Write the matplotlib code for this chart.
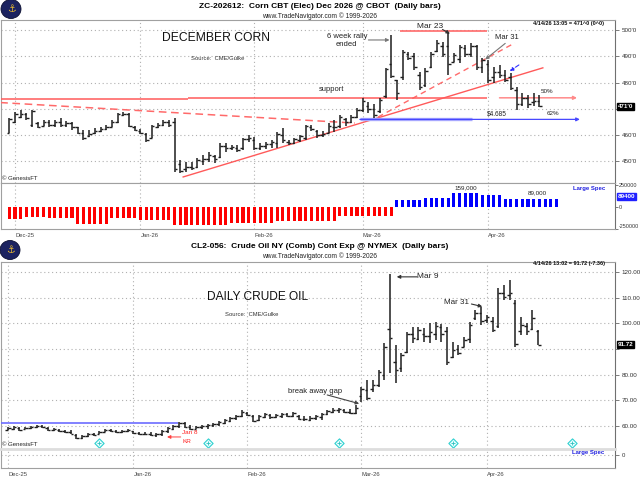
import numpy as np
import matplotlib
matplotlib.use('Agg')
import matplotlib.pyplot as plt
from matplotlib.patches import Ellipse

plt.rcParams['font.family'] = ['Liberation Sans', 'DejaVu Sans']

W, H = 640, 480

# ---------------- data ----------------
month_labels = ['Dec-25', 'Jan-26', 'Feb-26', 'Mar-26', 'Apr-26']
corn_month_idx = [1, 23, 43, 62, 84]     # first trading day of each month (bar index)
crude_month_idx = [0, 22, 42, 62, 84]

# December corn, daily bars Nov 28 2025 .. Apr 14 2026 (cents)
corn_open = [461, 465, 467, 468, 464, 464.5, 463.5, 465, 464, 465,
             464, 464.5, 463, 461, 459.5, 461, 461.5, 462.5, 463, 465,
             467.5, 468, 463, 461.5, 460.5, 459, 463, 464, 465, 465,
             449, 447, 448, 448, 450, 451, 452, 451.5, 456, 455,
             455, 455, 458.5, 458, 455, 456, 456.5, 457, 460, 457.5,
             457, 458, 459, 463, 461.5, 460, 461, 463, 463.5, 466,
             465, 467, 469.5, 471, 470, 469, 475, 487, 481, 482,
             491, 490, 483, 479, 486, 492, 494, 494, 488, 489,
             493, 491, 494, 486, 487, 482, 484, 483, 482, 477,
             472, 474, 472.5, 473]
corn_high = [466.5, 468.75, 469.5, 468.5, 469.5, 465, 465.75, 465.75, 465.75, 466.5,
             465.5, 465, 463, 462, 462, 462.75, 463, 464, 465.75, 468.5,
             468.75, 468.5, 463.5, 462.25, 460.75, 464, 464.5, 465.75, 465.75, 466.5,
             450.5, 449.75, 449.75, 451.25, 452.5, 453.5, 452.5, 457, 457, 456.25,
             456.25, 459, 460, 459.25, 457, 457.5, 458.25, 461.25, 462.75, 458.25,
             459, 460, 464, 464, 462, 461.5, 464.5, 465.75, 467.75, 466.5,
             467.75, 470.25, 474.25, 472.5, 471.75, 474.25, 485.5, 498, 481, 492.5,
             491.5, 491.25, 484, 485.5, 491.5, 496.25, 495.5, 499, 491.25, 494.25,
             494.25, 495, 494.25, 489.5, 488.5, 486, 486.75, 484.75, 483.75, 478.25,
             476, 475.25, 476, 475.25]
corn_low = [460.75, 464.5, 466.5, 465.75, 463, 462.75, 463.5, 463, 463, 463,
            463, 462, 460.5, 458.25, 459.25, 460.5, 461.25, 462, 463, 464.5,
            467.25, 463, 461.5, 460.5, 457.5, 459, 462.75, 463.5, 463, 446,
            445.5, 446, 446.75, 447.5, 448.75, 449.75, 449.5, 451.25, 453.5, 454.5,
            453.5, 454.5, 457.5, 454.5, 454.5, 454.75, 455, 455, 457, 456.25,
            456.75, 457.5, 458.25, 461.5, 459, 459.25, 460.75, 461.25, 462.75, 463.5,
            464.5, 466.5, 468.75, 468.5, 466.5, 468.5, 474.25, 481.75, 473.5, 481,
            488.5, 484.75, 477.25, 478.25, 485.5, 491.5, 489.75, 483, 487.75, 487.5,
            489.75, 489.75, 484.75, 483.75, 479.75, 479.75, 481.75, 480.25, 477.25, 469.75,
            471.25, 470.25, 471.25, 470.75]
corn_close = [466, 468, 468, 466.5, 469, 463, 465, 464, 465, 464,
              464.5, 463, 461, 459, 460.5, 461.5, 462.5, 463, 465, 468,
              468, 463.5, 462, 461, 458, 463.5, 464, 465, 464, 447,
              446.5, 448, 447.5, 450.5, 451, 452.5, 451, 456, 455, 455.5,
              454.5, 458.5, 459, 455, 456, 456.5, 457.5, 460.5, 458, 457,
              458.5, 459.5, 463.5, 462.5, 460, 460.5, 463.5, 463, 467, 465,
              467, 469.5, 473, 470, 467.5, 473.5, 485, 482.5, 476, 491.5,
              489.5, 486, 478.5, 484.5, 491, 495, 491, 487, 490.5, 493.5,
              491, 494, 486, 488.5, 481, 484, 483, 481, 478, 472,
              474, 472, 473, 471]

# Large Spec net position (contracts), plotted under the corn bars
corn_spec = [-138000, -138000, -138000, -110000, -110000, -110000, -110000,
             -128000, -128000, -128000, -128000, -128000,
             -192000, -192000, -192000, -192000, -192000, -192000,
             -128000, -128000, -128000, -128000, -128000,
             -150000, -150000, -150000, -150000, -150000, -150000,
             -205000, -205000, -205000, -205000, -205000, -205000, -205000, -205000, -205000, -205000,
             -178000, -178000, -178000, -178000, -178000, -178000, -178000, -178000,
             -155000, -155000, -155000, -155000, -155000, -155000, -155000, -155000, -155000, -155000, -155000,
             -102000, -102000, -102000, -102000, -102000, -102000, -102000, -102000, -102000, -102000,
             76000, 76000, 76000, 76000, 76000,
             106000, 106000, 106000, 106000, 106000,
             159000, 159000, 159000, 159000, 159000,
             140000, 140000, 140000, 140000,
             89000, 89000, 89000, 89000, 89000, 89000, 89000, 89000, 89000, 89000]

# Crude oil 2nd month, daily bars Dec 1 2025 .. Apr 14 2026 ($/bbl)
crude_open = [58.6, 59.0, 59.3, 58.9, 59.1, 59.5, 60.0, 59.3, 58.4, 58.6,
              57.9, 57.6, 56.6, 55.2, 56.0, 56.9, 56.9, 57.8, 58.4, 58.0,
              57.5, 58.0, 57.9, 57.2, 57.0, 56.8, 56.3, 56.8, 58.0, 59.0,
              60.0, 61.0, 59.6, 59.0, 59.5, 59.8, 60.3, 60.6, 61.3, 62.0,
              63.0, 64.0, 65.2, 64.0, 62.3, 63.5, 64.4, 63.4, 64.0, 64.5,
              63.8, 63.9, 62.7, 62.5, 63.0, 63.6, 64.6, 65.6, 66.2, 66.3,
              65.6, 65.2, 71.5, 74.0, 74.5, 76.0, 80.0, 98.0, 85.0, 82.5,
              89.0, 96.0, 94.0, 96.0, 95.0, 96.0, 98.5, 97.0, 87.0, 90.0,
              91.0, 94.0, 102.0, 104.0, 101.5, 101.0, 99.0, 112.0, 111.0, 108.0,
              97.0, 99.0, 98.0, 97.0]
crude_high = [59.5, 59.9, 59.5, 59.5, 59.9, 60.3, 60.3, 59.5, 59.2, 58.8,
              58.4, 58.4, 56.8, 56.4, 57.2, 57.2, 58.0, 58.8, 58.8, 58.4,
              58.4, 58.8, 58.0, 57.6, 57.6, 57.6, 57.2, 58.4, 59.5, 60.3,
              61.5, 61.5, 60.3, 59.9, 60.3, 60.7, 61.1, 61.9, 62.7, 63.4,
              64.2, 66.2, 65.4, 64.2, 64.2, 65.0, 64.6, 64.6, 65.0, 65.0,
              65.4, 64.2, 63.8, 63.8, 64.2, 65.0, 66.2, 67.0, 67.0, 66.6,
              66.6, 68.2, 75.1, 78.0, 78.0, 81.8, 92.4, 119.3, 91.6, 88.5,
              96.7, 98.6, 98.6, 98.2, 100.2, 100.6, 99.8, 98.6, 92.8, 91.6,
              94.7, 100.6, 105.3, 106.5, 103.4, 102.6, 113.8, 115.0, 117.0, 109.2,
              102.6, 100.2, 105.3, 97.5]
crude_low = [58.4, 58.4, 58.0, 58.8, 58.8, 59.2, 59.2, 58.0, 58.0, 57.6,
             57.2, 56.8, 54.9, 54.9, 55.7, 56.1, 56.8, 57.6, 57.6, 57.2,
             57.2, 57.6, 56.8, 56.4, 56.4, 56.1, 55.7, 56.1, 57.2, 58.4,
             59.2, 59.2, 58.4, 58.8, 58.8, 58.8, 59.5, 59.9, 60.7, 61.5,
             62.3, 63.4, 63.8, 61.5, 61.9, 63.1, 62.7, 63.1, 63.1, 63.4,
             63.4, 62.3, 61.9, 61.9, 62.3, 62.3, 64.2, 65.0, 65.0, 65.0,
             64.6, 64.6, 69.3, 70.1, 73.3, 75.2, 78.0, 80.7, 76.7, 81.1,
             88.5, 92.4, 93.6, 92.8, 92.4, 93.6, 92.8, 83.8, 86.5, 87.7,
             90.8, 92.4, 101.4, 99.5, 100.2, 96.7, 98.2, 109.2, 109.2, 90.8,
             95.5, 95.5, 97.5, 91.6]
crude_close = [59.2, 59.6, 58.5, 59.2, 59.7, 60.0, 59.4, 58.3, 58.8, 57.9,
               57.5, 57.0, 55.3, 56.0, 56.9, 56.5, 57.8, 58.5, 58.0, 57.6,
               58.1, 58.4, 57.2, 57.0, 56.8, 56.4, 56.9, 58.2, 59.2, 60.0,
               61.1, 59.5, 59.0, 59.6, 60.0, 60.4, 60.8, 61.5, 62.4, 63.1,
               64.0, 65.4, 64.3, 62.0, 63.8, 64.5, 63.3, 64.1, 64.6, 63.9,
               65.0, 62.8, 62.6, 63.2, 63.8, 64.8, 65.8, 66.4, 66.5, 65.5,
               65.2, 67.0, 74.5, 71.0, 76.0, 81.0, 90.8, 94.5, 82.0, 87.5,
               96.0, 94.5, 97.5, 95.0, 96.5, 99.0, 96.0, 85.0, 89.5, 88.5,
               93.5, 99.5, 104.0, 101.0, 102.5, 97.5, 112.0, 110.5, 112.0, 92.0,
               99.5, 97.0, 102.0, 91.72]
crude_event_idx = [16, 35, 58, 78, 99]   # cyan diamond markers

corn_ticks = [450, 460, 470, 480, 490, 500]
corn_tick_labels = ["450'0", "460'0", "", "480'0", "490'0", "500'0"]
crude_ticks = [60, 70, 80, 90, 100, 110, 120]
crude_tick_labels = ['60.00', '70.00', '80.00', '', '100.00', '110.00', '120.00']

# ---------------- helpers ----------------
fig = plt.figure(figsize=(6.4, 4.8), dpi=100)


def rect(x0, y0, x1, y1):
    return [x0 / W, 1 - y1 / H, (x1 - x0) / W, (y1 - y0) / H]


def fpos(x, y):
    return x / W, 1 - y / H


def frame(ax):
    for s in ax.spines.values():
        s.set_color('#a0a0a0')
        s.set_linewidth(0.8)
    ax.spines['right'].set_color('#707070')


def ohlc(ax, o, h, l, c):
    x = np.arange(len(o))
    ax.vlines(x, l, h, color='#1e1e1e', lw=1.1, zorder=4)
    ax.hlines(o, x - 0.45, x, color='#1e1e1e', lw=1.0, zorder=4)
    ax.hlines(c, x, x + 0.45, color='#1e1e1e', lw=1.0, zorder=4)


def grid(ax, xt):
    ax.set_xticks(xt)
    ax.grid(True, color='#b0b0b0', linestyle=(0, (1, 2.5)), linewidth=0.8)
    ax.set_axisbelow(True)


def logo(x, y):
    cx, cy = fpos(x, y)
    fig.patches.append(Ellipse((cx, cy), 20 / W, 19 / H, transform=fig.transFigure,
                               facecolor='#1c2360', edgecolor='#0c0f30', lw=0.6))
    fig.text(cx, cy, '\u2693', color='#e2b632', fontsize=7, ha='center', va='center',
             family='DejaVu Sans')


def arrow(ax, tip, start, color='#707070', lw=0.8, ls='-'):
    ax.annotate('', xy=tip, xytext=start,
                arrowprops=dict(arrowstyle='-|>', color=color, lw=lw, ls=ls,
                                mutation_scale=5, shrinkA=0, shrinkB=0))


def price_box(ax, val, txt, fc):
    ax.text(1.004, val, txt, transform=ax.get_yaxis_transform(), ha='left', va='center',
            fontsize=4.5, color='white', fontweight='bold', clip_on=False, zorder=6,
            bbox=dict(boxstyle='square,pad=0.15', fc=fc, ec=fc))


# ---------------- corn ----------------
logo(11, 9)
fig.text(*fpos(320, 6), 'ZC-202612:  Corn CBT (Elec) Dec 2026 @ CBOT  (Daily bars)',
         ha='center', va='center', fontsize=6, fontweight='bold')
fig.text(*fpos(320, 16), 'www.TradeNavigator.com \u00a9 1999-2026',
         ha='center', va='center', fontsize=4.8, color='#222')

ax1 = fig.add_axes(rect(1, 20, 615, 183))
frame(ax1)
ax1.set_xlim(-1.46, 106.26)
ax1.set_ylim(441.8, 503.8)
grid(ax1, corn_month_idx)
ax1.yaxis.tick_right()
ax1.set_yticks(corn_ticks)
ax1.set_yticklabels(corn_tick_labels)
ax1.tick_params(axis='y', length=3, width=0.6, color='#666', labelsize=4.5,
                labelcolor='#333', pad=2)
ax1.tick_params(axis='x', length=0, labelbottom=False)

# trend lines
ax1.plot([-1.6, 60.6], [472.4, 464.6], color='#ff6a6a', lw=1.1, ls=(0, (5, 3)), zorder=3)
ax1.plot([30.5, 93.6], [444.1, 485.6], color='#ff5a5a', lw=1.0, zorder=3)
ax1.plot([64.7, 88.7], [466.9, 495.1], color='#ff6a6a', lw=1.0, ls=(0, (4, 3)), zorder=3)
ax1.hlines(473.6, -1.5, 31.4, color='#ff5a5a', lw=1.1, zorder=3)
ax1.hlines(474.2, 31.4, 83.8, color='#ff5a5a', lw=1.1, zorder=3)
arrow(ax1, (99.6, 474.2), (86, 474.2), color='#ff8a8a', lw=1.1)
ax1.hlines(499.6, 68.5, 83.8, color='#ff6a6a', lw=1.2, zorder=3)
ax1.hlines(466.0, 61.5, 81.2, color='#a8a8ff', lw=2.4, zorder=3)
arrow(ax1, (100.1, 466.0), (61.5, 466.0), color='#4848ff', lw=0.9)
arrow(ax1, (87.8, 484.4), (89.4, 486.7), color='#3030ff', lw=0.8, ls='--')

ohlc(ax1, corn_open, corn_high, corn_low, corn_close)

fig.text(*fpos(216, 38), 'DECEMBER CORN', ha='center', va='center', fontsize=8.7, color='#111')
fig.text(*fpos(218, 59), 'Source:  CME/Gulke', ha='center', va='center', fontsize=4.2, color='#333')
fig.text(*fpos(2, 178), '\u00a9 GenesisFT', ha='left', va='center', fontsize=4.3, color='#222')
fig.text(*fpos(604, 24), '4/14/26 13:05 = 471^0 (0^0)', ha='right', va='center',
         fontsize=4, fontweight='bold', color='#111')

ax1.text(59.2, 496.0, '6 week rally\nended', ha='center', va='center', fontsize=5.5,
         linespacing=1.05, color='#222')
arrow(ax1, (66.7, 496.2), (63.0, 496.2), color='#777')
ax1.text(73.8, 501.5, 'Mar 23', ha='center', va='center', fontsize=6, color='#222')
arrow(ax1, (77.3, 498.6), (76.0, 500.2), color='#333')
ax1.text(87.3, 497.0, 'Mar 31', ha='center', va='center', fontsize=5.5, color='#222')
arrow(ax1, (83.5, 488.8), (87.0, 494.9), color='#777')
ax1.text(56.6, 477.2, 'support', ha='center', va='center', fontsize=5.4, color='#222')
ax1.text(94.3, 476.6, '50%', ha='center', va='center', fontsize=4.5, color='#222')
ax1.text(85.6, 468.1, '$4.685', ha='center', va='center', fontsize=4.7, color='#222')
ax1.text(95.4, 468.1, '62%', ha='center', va='center', fontsize=4.5, color='#222')
price_box(ax1, 471, "471'0", 'black')

ax2 = fig.add_axes(rect(1, 183, 615, 229))
frame(ax2)
ax2.set_xlim(-1.46, 106.26)
ax2.set_ylim(-250000, 273000)
grid(ax2, corn_month_idx)
ax2.grid(False, axis='y')
spec_x = np.arange(len(corn_spec))
spec_col = ['#ff0000' if v < 0 else '#0000ff' for v in corn_spec]
ax2.bar(spec_x, corn_spec, width=0.55, color=spec_col, zorder=3)
ax2.yaxis.tick_right()
ax2.set_yticks([-250000, 0, 250000])
ax2.set_yticklabels(['-250000', '0', '250000'])
ax2.tick_params(axis='y', length=2, width=0.6, color='#666', labelsize=3.9,
                labelcolor='#333', pad=1)
ax2.get_yticklabels()[0].set_va('bottom')
ax2.set_xticklabels(month_labels, ha='left')
ax2.tick_params(axis='x', length=0, labelsize=4.2, labelcolor='#444', pad=3)
ax2.text(80, 216000, '159,000', ha='center', va='center', fontsize=4.5, color='#222')
ax2.text(92.6, 160000, '89,000', ha='center', va='center', fontsize=4.5, color='#222')
ax2.text(101.7, 216000, 'Large Spec', ha='center', va='center', fontsize=4.3,
         color='#2020e0', fontweight='bold')
price_box(ax2, 118000, '89400', '#2020ff')

# ---------------- crude ----------------
logo(10, 250)
fig.text(*fpos(320, 246.5), 'CL2-056:  Crude Oil NY (Comb) Cont Exp @ NYMEX  (Daily bars)',
         ha='center', va='center', fontsize=6, fontweight='bold')
fig.text(*fpos(320, 256.5), 'www.TradeNavigator.com \u00a9 1999-2026',
         ha='center', va='center', fontsize=4.8, color='#222')

ax3 = fig.add_axes(rect(1, 262, 615, 449))
frame(ax3)
ax3.set_xlim(-1.23, 106.49)
ax3.set_ylim(51.0, 124.0)
grid(ax3, crude_month_idx)
ax3.yaxis.tick_right()
ax3.set_yticks(crude_ticks)
ax3.set_yticklabels(crude_tick_labels)
ax3.tick_params(axis='y', length=3, width=0.6, color='#666', labelsize=4.5,
                labelcolor='#333', pad=2)
ax3.tick_params(axis='x', length=0, labelbottom=False)

ax3.hlines(61.25, -1.3, 29.8, color='#6c6cff', lw=1.2, zorder=3)
ohlc(ax3, crude_open, crude_high, crude_low, crude_close)
ax3.scatter(crude_event_idx, [53.4] * len(crude_event_idx), marker='D', s=22,
            facecolor='#e6ffff', edgecolor='#30d0d0', lw=0.8, zorder=5, clip_on=False)
ax3.scatter(crude_event_idx, [53.4] * len(crude_event_idx), marker='+', s=8,
            color='#30c0c0', lw=0.6, zorder=6, clip_on=False)

fig.text(*fpos(258, 297.5), 'DAILY CRUDE OIL', ha='center', va='center', fontsize=8.6, color='#111')
fig.text(*fpos(252, 314), 'Source:  CME/Gulke', ha='center', va='center', fontsize=4.2, color='#333')
fig.text(*fpos(2, 445), '\u00a9 GenesisFT', ha='left', va='center', fontsize=4.3, color='#222')
fig.text(*fpos(605, 264), '4/14/26 13:02 = 91.72 (-7.36)', ha='right', va='center',
         fontsize=4, fontweight='bold', color='#111')

ax3.text(73.7, 118.2, 'Mar 9', ha='center', va='center', fontsize=6, color='#222')
arrow(ax3, (68.2, 118.2), (71.8, 118.2), color='#333')
ax3.text(78.6, 108.0, 'Mar 31', ha='center', va='center', fontsize=5.8, color='#222')
arrow(ax3, (83.2, 106.6), (81.3, 107.6), color='#333')
ax3.text(53.9, 73.6, 'break away gap', ha='center', va='center', fontsize=5.5, color='#222')
arrow(ax3, (61.6, 68.7), (56.0, 72.1), color='#444')
ax3.text(30.6, 57.3, 'Jan 8', ha='left', va='center', fontsize=4.6, color='#ff2020')
ax3.text(30.6, 54.1, 'KR', ha='left', va='center', fontsize=4.6, color='#ff2020')
arrow(ax3, (27.9, 55.7), (30.3, 55.7), color='#ff4040', lw=0.7)
price_box(ax3, 91.72, '91.72', 'black')

ax4 = fig.add_axes(rect(1, 449, 615, 468))
frame(ax4)
ax4.spines['top'].set_color('#dddddd')
ax4.spines['top'].set_linewidth(2)
ax4.set_xlim(-1.23, 106.49)
ax4.set_ylim(-13, 6)
grid(ax4, crude_month_idx)
ax4.yaxis.tick_right()
ax4.set_yticks([0])
ax4.set_yticklabels(['0'])
ax4.tick_params(axis='y', length=3, width=0.6, color='#666', labelsize=4.3,
                labelcolor='#333', pad=2)
ax4.set_xticklabels(month_labels, ha='left')
ax4.tick_params(axis='x', length=0, labelsize=4.2, labelcolor='#444', pad=3)
ax4.text(101.7, 2.3, 'Large Spec', ha='center', va='center', fontsize=4.3,
         color='#2020e0', fontweight='bold')

fig.savefig('out.png', dpi=100)
